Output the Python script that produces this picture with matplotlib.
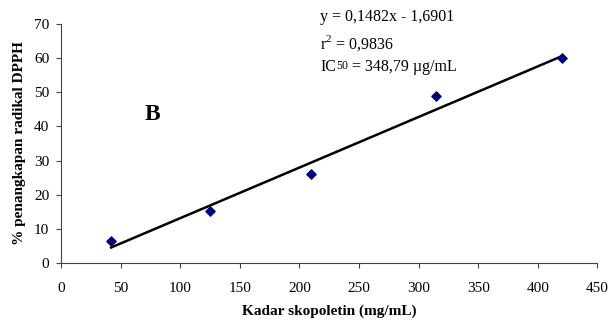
import matplotlib
matplotlib.use("Agg")
import matplotlib.pyplot as plt
import numpy as np

plt.rcParams['font.family'] = ['Liberation Serif', 'DejaVu Serif']
plt.rcParams['mathtext.fontset'] = 'custom'
plt.rcParams['mathtext.rm'] = 'Liberation Serif'

# Data
kadar = [42, 125, 210, 315, 420]
penangkapan = [6.5, 15.2, 26.2, 48.9, 60.0]
slope = 0.1482
intercept = -1.6901
xticks = [0, 50, 100, 150, 200, 250, 300, 350, 400, 450]
yticks = [0, 10, 20, 30, 40, 50, 60, 70]

fig = plt.figure(figsize=(6.13, 3.29), dpi=100)
ax = fig.add_axes([0.0995, 0.2006, 0.875, 0.7264])

xl = np.array([kadar[0], kadar[-1]])
ax.plot(xl, slope * xl + intercept, color='black', lw=1.8, zorder=2)
ax.scatter(kadar, penangkapan, marker='D', s=22, color='#000080', zorder=3)

ax.set_xlim(0, 450)
ax.set_ylim(0, 70)
ax.set_xticks(xticks)
ax.set_yticks(yticks)
ax.tick_params(direction='out', length=3.5, labelsize=11, width=0.8, color='#444444')
ax.tick_params(axis='x', pad=10)
ax.tick_params(axis='y', pad=5)
for s in ['top', 'right']:
    ax.spines[s].set_visible(False)
for s in ['left', 'bottom']:
    ax.spines[s].set_color('#444444')

ax.set_xlabel('Kadar skopoletin (mg/mL)', fontsize=11, fontweight='bold', labelpad=7)
ax.set_ylabel('% penangkapan radikal DPPH', fontsize=11, fontweight='bold', labelpad=6)

ax.text(77, 43.5, 'B', fontsize=17, fontweight='bold', ha='center', va='center')

# regression annotation
fig.text(0.522, 0.948, 'y = 0,1482x - 1,6901', fontsize=11.5, va='center')
fig.text(0.522, 0.868, 'r$^2$ = 0,9836', fontsize=11.5, va='center')
t1 = fig.text(0.522, 0.795, 'IC', fontsize=11.5, va='center')
fig.canvas.draw()
r = fig.canvas.get_renderer()
x1 = fig.transFigure.inverted().transform(t1.get_window_extent(r).extents[2:])[0]
t2 = fig.text(x1, 0.80, '50', fontsize=8.5, va='center')
fig.canvas.draw()
x2 = fig.transFigure.inverted().transform(t2.get_window_extent(r).extents[2:])[0]
fig.text(x2, 0.795, ' = 348,79 \u00b5g/mL', fontsize=11.5, va='center')

fig.savefig('out.png', dpi=100)
